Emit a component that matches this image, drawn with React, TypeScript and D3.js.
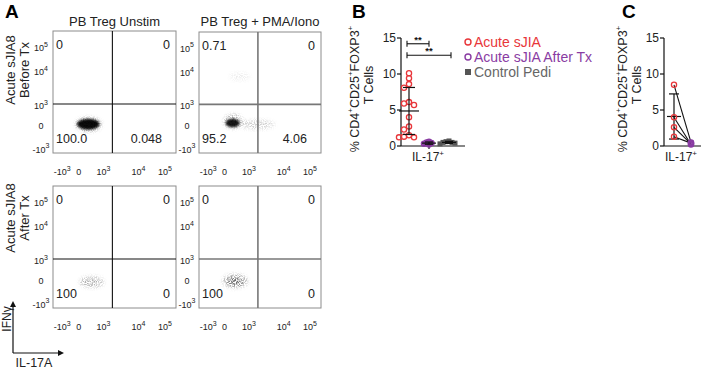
import React from 'react';
import * as d3 from 'd3';

const FONT = '"Liberation Sans", Arial, Helvetica, sans-serif';

// ---------- panel A : flow plots ----------
const AXIS_TICKS = [-1000, 0, 1000, 10000, 100000];
const X_FRAC = [0.075, 0.21, 0.41, 0.695, 0.91];
const Y_FRAC = [0.975, 0.78, 0.615, 0.34, 0.14];
const GATE_X = 3300;
const GATE_Y = 1550;

const COLUMN_TITLES = ['PB Treg Unstim', 'PB Treg + PMA/Iono'];
const ROW_TITLES = [
  ['Acute sJIA8', 'Before Tx'],
  ['Acute sJIA8', 'After Tx'],
];
// quadrant frequencies: top-left, top-right, bottom-left, bottom-right
const QUAD_VALUES = [
  ['0', '0', '100.0', '0.048'],
  ['0.71', '0', '95.2', '4.06'],
  ['0', '0', '100', '0'],
  ['0', '0', '100', '0'],
];
// event clouds, ranges in axis units
const EVENT_CLOUDS = [
  { plot: 0, x: [-160, 900], y: [-200, 420], shade: '#555', opacity: 0.7, grain: true },
  { plot: 0, x: [-110, 840], y: [-150, 370], shade: '#000', opacity: 0.95, grain: false },
  { plot: 1, x: [-20, 720], y: [-80, 600], shade: '#333', opacity: 0.45, grain: true },
  { plot: 1, x: [40, 620], y: [-40, 380], shade: '#000', opacity: 0.9, grain: false },
  { plot: 1, x: [600, 7500], y: [-120, 320], shade: '#999', opacity: 0.5, grain: true },
  { plot: 1, x: [200, 1200], y: [8000, 11000], shade: '#ccc', opacity: 0.4, grain: true },
  { plot: 2, x: [40, 1000], y: [-260, 220], shade: '#888', opacity: 0.7, grain: true },
  { plot: 3, x: [-80, 920], y: [-260, 320], shade: '#777', opacity: 0.8, grain: true },
  { plot: 3, x: [150, 650], y: [-150, 180], shade: '#555', opacity: 0.8, grain: true },
];
const PLOT_BOXES = [
  { x: 53, y: 31, w: 123, h: 122, gate: '#111', gateW: 1.1 },
  { x: 199, y: 32, w: 122, h: 121, gate: '#777', gateW: 1.6 },
  { x: 53, y: 186, w: 123, h: 122, gate: '#111', gateW: 1.1 },
  { x: 199, y: 186, w: 122, h: 122, gate: '#777', gateW: 1.6 },
];

// ---------- panel B ----------
const GROUPS = ['Acute sJIA', 'Acute sJIA After Tx', 'Control Pedi'];
const GROUP_COLORS = ['#e8363a', '#8a3ca3', '#666666'];
const ACUTE = [10.1, 9.4, 8.6, 8.1, 6.1, 5.9, 5.7, 4.0, 2.7, 2.3, 1.5, 1.3, 1.2, 1.2];
const AFTER_TX = [0.6, 0.5, 0.4, 0.3, 0.2];
const CONTROL = [0.7, 0.6, 0.5, 0.5, 0.4, 0.3];
const SIG_BARS = [
  { from: 0, to: 1, y: 14.2, label: '**' },
  { from: 0, to: 2, y: 12.6, label: '**' },
];
const Y_TICKS = [0, 5, 10, 15];

// ---------- panel C ----------
const PAIRED_BEFORE = [8.5, 4.0, 2.6, 1.3];
const PAIRED_AFTER = [0.5, 0.2, 0.3, 0.4];

function swarm(values: number[], y: (v: number) => number, minDist: number) {
  const order = d3.range(values.length).sort((a, b) => values[b] - values[a]);
  const placed: { x: number; y: number }[] = [];
  const offs = new Array(values.length).fill(0);
  order.forEach(i => {
    const py = y(values[i]);
    for (let k = 0; k < 40; k++) {
      const dx = (k % 2 === 0 ? 1 : -1) * Math.ceil(k / 2) * minDist;
      const hit = placed.some(p => (p.x - dx) ** 2 + (p.y - py) ** 2 < minDist ** 2);
      if (!hit) {
        placed.push({ x: dx, y: py });
        offs[i] = dx;
        break;
      }
    }
  });
  return offs;
}

const PowLabel = ({ v, x, y }: { v: number; x: number; y: number }) => {
  if (v === 0)
    return (
      <text x={x} y={y} fontSize={9} textAnchor="middle" dominantBaseline="central">0</text>
    );
  const exp = Math.round(Math.log10(Math.abs(v)));
  return (
    <text x={x} y={y} fontSize={9} textAnchor="middle" dominantBaseline="central">
      {v < 0 ? '-' : ''}10<tspan dy={-4.5} fontSize={7}>{exp}</tspan>
    </text>
  );
};

const FlowPlot = ({ i }: { i: number }) => {
  const b = PLOT_BOXES[i];
  const xs = d3.scaleLinear().domain(AXIS_TICKS).range(X_FRAC.map(f => b.x + f * b.w));
  const ys = d3.scaleLinear().domain(AXIS_TICKS).range(Y_FRAC.map(f => b.y + f * b.h));
  const q = QUAD_VALUES[i];
  const gx = xs(GATE_X);
  const gy = ys(GATE_Y);
  return (
    <g>
      {EVENT_CLOUDS.filter(c => c.plot === i).map((c, k) => {
        const x0 = xs(c.x[0]), x1 = xs(c.x[1]);
        const y0 = ys(c.y[0]), y1 = ys(c.y[1]);
        return (
          <ellipse
            key={k}
            cx={(x0 + x1) / 2}
            cy={(y0 + y1) / 2}
            rx={Math.abs(x1 - x0) / 2}
            ry={Math.abs(y1 - y0) / 2}
            fill={c.shade}
            opacity={c.opacity}
            filter={c.grain ? 'url(#grain)' : 'url(#soft)'}
          />
        );
      })}
      <rect x={b.x} y={b.y} width={b.w} height={b.h} fill="none" stroke="#8c8c8c" strokeWidth={1} />
      <line x1={gx} x2={gx} y1={b.y} y2={b.y + b.h} stroke={b.gate} strokeWidth={b.gateW} />
      <line x1={b.x} x2={b.x + b.w} y1={gy} y2={gy} stroke={b.gate} strokeWidth={b.gateW} />

      <g fontSize={12.5} fill="#222" dominantBaseline="central">
        <text x={b.x + 3} y={b.y + 14}>{q[0]}</text>
        <text x={b.x + b.w - 6} y={b.y + 14} textAnchor="end">{q[1]}</text>
        <text x={b.x + 3} y={b.y + b.h - 14}>{q[2]}</text>
        <text x={b.x + b.w - (q[3].length > 1 ? 14 : 6)} y={b.y + b.h - 14} textAnchor="end">{q[3]}</text>
      </g>

      <g fill="#222">
        {AXIS_TICKS.map(t => (
          <PowLabel key={'y' + t} v={t} x={b.x - 12} y={ys(t)} />
        ))}
        {AXIS_TICKS.map(t => (
          <PowLabel key={'x' + t} v={t} x={xs(t)} y={b.y + b.h + 19} />
        ))}
      </g>
    </g>
  );
};

const Arrowhead = ({ x, y, dir }: { x: number; y: number; dir: 'up' | 'right' }) => {
  const pts = dir === 'up'
    ? [[x, y], [x - 3, y + 6], [x + 3, y + 6]]
    : [[x, y], [x - 6, y - 3], [x - 6, y + 3]];
  return <polygon points={pts.map(p => p.join(',')).join(' ')} fill="#111" />;
};

const PanelA = () => (
  <g>
    <text x={5} y={18} fontSize={19} fontWeight="bold">A</text>
    {COLUMN_TITLES.map((t, c) => (
      <text key={t} x={PLOT_BOXES[c].x + PLOT_BOXES[c].w / 2} y={26} fontSize={13} textAnchor="middle" fill="#222">
        {t}
      </text>
    ))}
    {ROW_TITLES.map((lines, r) => {
      const cy = r === 0 ? 70 : 218;
      return lines.map((l, k) => (
        <text
          key={r + l + k}
          transform={`translate(${10 + k * 14},${cy}) rotate(-90)`}
          fontSize={13}
          textAnchor="middle"
          dominantBaseline="central"
          fill="#222"
        >
          {l}
        </text>
      ));
    })}
    {PLOT_BOXES.map((_, i) => (
      <FlowPlot key={i} i={i} />
    ))}
    <line x1={13} x2={13} y1={353} y2={305} stroke="#111" strokeWidth={1.2} />
    <line x1={13} x2={60} y1={353} y2={353} stroke="#111" strokeWidth={1.2} />
    <Arrowhead x={13} y={301} dir="up" />
    <Arrowhead x={64} y={353} dir="right" />
    <text transform="translate(6.5,319) rotate(-90)" fontSize={12} textAnchor="middle" dominantBaseline="central" fill="#222">
      IFNγ
    </text>
    <text x={34} y={363} fontSize={12.5} textAnchor="middle" dominantBaseline="central" fill="#222">
      IL-17A
    </text>
  </g>
);

const yScale = d3.scaleLinear().domain([0, 15]).range([146, 38]);

const YAxis = ({ x }: { x: number }) => (
  <g>
    <line x1={x} x2={x} y1={yScale(0)} y2={yScale(15)} stroke="#111" strokeWidth={1.2} />
    {Y_TICKS.map(t => (
      <g key={t}>
        <line x1={x - 4} x2={x} y1={yScale(t)} y2={yScale(t)} stroke="#111" strokeWidth={1.2} />
        <text x={x - 5} y={yScale(t)} fontSize={12} textAnchor="end" dominantBaseline="central" fill="#222">
          {t}
        </text>
      </g>
    ))}
  </g>
);

const YTitle = ({ x }: { x: number }) => (
  <g fontSize={12.5} fill="#222" textAnchor="middle" dominantBaseline="central">
    <text transform={`translate(${x},89) rotate(-90)`}>
      % CD4<tspan dy={-5} fontSize={8}>+</tspan>
      <tspan dy={5}>CD25</tspan>
      <tspan dy={-5} fontSize={8}>+</tspan>
      <tspan dy={5}>FOXP3</tspan>
      <tspan dy={-5} fontSize={8}>+</tspan>
    </text>
    <text transform={`translate(${x + 14},85) rotate(-90)`}>T Cells</text>
  </g>
);

const XLabel = ({ x }: { x: number }) => (
  <text x={x} y={157} fontSize={12} textAnchor="middle" dominantBaseline="central" fill="#222">
    IL-17<tspan dy={-4} fontSize={8}>+</tspan>
  </text>
);

const MeanSD = ({ x, values, mw, cw }: { x: number; values: number[]; mw: number; cw: number }) => {
  const m = d3.mean(values) as number;
  const sd = d3.deviation(values) as number;
  const lo = Math.max(0, m - sd);
  const hi = m + sd;
  return (
    <g stroke="#111" strokeWidth={1.2}>
      <line x1={x} x2={x} y1={yScale(lo)} y2={yScale(hi)} />
      <line x1={x - mw} x2={x + mw} y1={yScale(m)} y2={yScale(m)} />
      <line x1={x - cw} x2={x + cw} y1={yScale(lo)} y2={yScale(lo)} />
      <line x1={x - cw} x2={x + cw} y1={yScale(hi)} y2={yScale(hi)} />
    </g>
  );
};

const PanelB = () => {
  const axisX = 401;
  const gx = d3.scalePoint<number>().domain([0, 1, 2]).range([409, 449]);
  const series = [ACUTE, AFTER_TX, CONTROL];
  const spacing = [5, 2.5, 3];
  const r = 2.6;
  return (
    <g>
      <text x={352} y={18} fontSize={19} fontWeight="bold">B</text>
      <YTitle x={355} />
      <YAxis x={axisX} />
      <line x1={axisX} x2={465} y1={yScale(0)} y2={yScale(0)} stroke="#111" strokeWidth={1.2} />
      <line x1={429} x2={429} y1={yScale(0)} y2={yScale(0) + 3} stroke="#111" strokeWidth={1.2} />
      <XLabel x={428} />
      {series.map((vals, g) => {
        const offs = swarm(vals, yScale, spacing[g]);
        const cx = gx(g) as number;
        return (
          <g key={g}>
            {vals.map((v, k) =>
              g === 2 ? (
                <rect key={k} x={cx + offs[k] - 2.5} y={yScale(v) - 2.5} width={5} height={5} fill="#555" />
              ) : (
                <circle
                  key={k}
                  cx={cx + offs[k]}
                  cy={yScale(v)}
                  r={r}
                  fill={g === 1 ? '#7d2c93' : 'none'}
                  fillOpacity={g === 1 ? 0.85 : 0}
                  stroke={GROUP_COLORS[g]}
                  strokeWidth={1.3}
                />
              )
            )}
            <MeanSD x={cx} values={vals} mw={g === 0 ? 10 : 7} cw={g === 0 ? 6 : 4} />
          </g>
        );
      })}
      {SIG_BARS.map((s, k) => {
        const x1 = (gx(s.from) as number) - 2;
        const x2 = (gx(s.to) as number) + (s.to === 2 ? 2 : 0);
        const y = yScale(s.y);
        return (
          <g key={k} stroke="#111" strokeWidth={1.1}>
            <line x1={x1} x2={x2} y1={y} y2={y} />
            <line x1={x1} x2={x1} y1={y - 3} y2={y + 3} />
            <line x1={x2} x2={x2} y1={y - 3} y2={y + 3} />
            <text x={(x1 + x2) / 2} y={y - 1} fontSize={9.5} fontWeight="bold" textAnchor="middle" stroke="none" fill="#111">
              {s.label}
            </text>
          </g>
        );
      })}
      {GROUPS.map((g, k) => {
        const y = 42 + k * 15;
        return (
          <g key={g}>
            {k === 2 ? (
              <rect x={465} y={y - 3} width={6} height={6} fill="#555" />
            ) : (
              <circle cx={468} cy={y} r={3} fill="none" stroke={GROUP_COLORS[k]} strokeWidth={1.4} />
            )}
            <text x={474} y={y} fontSize={14} dominantBaseline="central" fill={GROUP_COLORS[k]}>
              {g}
            </text>
          </g>
        );
      })}
    </g>
  );
};

const PanelC = () => {
  const axisX = 664;
  const before = 674;
  const after = 691;
  return (
    <g>
      <text x={622} y={18} fontSize={19} fontWeight="bold">C</text>
      <YTitle x={623} />
      <YAxis x={axisX} />
      <line x1={axisX} x2={701} y1={yScale(0)} y2={yScale(0)} stroke="#111" strokeWidth={1.2} />
      <XLabel x={681} />
      {PAIRED_BEFORE.map((v, k) => (
        <line
          key={k}
          x1={before}
          x2={after}
          y1={yScale(v)}
          y2={yScale(PAIRED_AFTER[k])}
          stroke="#111"
          strokeWidth={1.1}
        />
      ))}
      <MeanSD x={before} values={PAIRED_BEFORE} mw={7} cw={5} />
      {PAIRED_BEFORE.map((v, k) => (
        <circle key={k} cx={before} cy={yScale(v)} r={2.6} fill="none" stroke={GROUP_COLORS[0]} strokeWidth={1.3} />
      ))}
      {PAIRED_AFTER.map((v, k) => (
        <circle key={k} cx={after} cy={yScale(v)} r={2.6} fill="#8a3ca3" fillOpacity={0.4} stroke={GROUP_COLORS[1]} strokeWidth={1.3} />
      ))}
    </g>
  );
};

export default function App() {
  return (
    <svg
      width={701}
      height={369}
      viewBox="0 0 701 369"
      style={{ position: 'absolute', left: 0, top: 0, background: '#fff' }}
      fontFamily={FONT}
    >
      <defs>
        <filter id="soft" x="-30%" y="-30%" width="160%" height="160%">
          <feGaussianBlur stdDeviation="1.2" />
        </filter>
        <filter id="grain" x="-30%" y="-30%" width="160%" height="160%">
          <feGaussianBlur in="SourceGraphic" stdDeviation="2" result="blur" />
          <feTurbulence type="fractalNoise" baseFrequency="0.9" numOctaves="1" seed="4" result="noise" />
          <feColorMatrix
            in="noise"
            type="matrix"
            values="0 0 0 0 0  0 0 0 0 0  0 0 0 0 0  4 0 0 0 -1.6"
            result="mask"
          />
          <feComposite in="blur" in2="mask" operator="in" />
        </filter>
      </defs>
      <rect width={701} height={369} fill="#fff" />
      <PanelA />
      <PanelB />
      <PanelC />
    </svg>
  );
}
